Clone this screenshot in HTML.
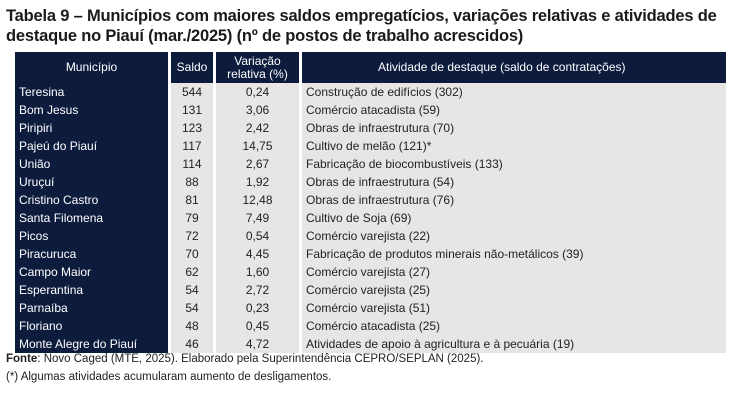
<!DOCTYPE html>
<html><head><meta charset="utf-8"><style>
body{margin:0;width:746px;height:400px;background:#fff;font-family:"Liberation Sans",sans-serif;overflow:hidden;position:relative}
.title{position:absolute;left:6px;top:6px;font-size:16.5px;font-weight:bold;color:#1a1a1a;line-height:20px;letter-spacing:-0.2px}
table{position:absolute;left:15px;top:52px;border-collapse:separate;border-spacing:3px 0;margin-left:-3px}
td,th{padding:0 4px;font-size:12px;height:18px;line-height:18px;white-space:nowrap}
th{background:#0d1b3d;color:#fff;font-weight:normal;text-align:center;height:31px;line-height:13px}
td.m{background:#0d1b3d;color:#fff;text-align:left;width:145px}
td.n{background:#e8e6e4;color:#222;text-align:center}
td.a{background:#e8e6e4;color:#222;text-align:left;width:416px}
.foot{position:absolute;left:6px;top:350px;font-size:11.5px;color:#222;line-height:18px}
</style></head><body>
<div class="title">Tabela 9 – Municípios com maiores saldos empregatícios, variações relativas e atividades de<br>destaque no Piauí (mar./2025) (nº de postos de trabalho acrescidos)</div>
<table>
<tr><th style="width:145px">Município</th><th style="width:34px">Saldo</th><th style="width:75px">Variação<br>relativa (%)</th><th style="text-align:left;padding-left:76px">Atividade de destaque (saldo de contratações)</th></tr>
<tbody id="tb"></tbody>
</table>
<div class="foot"><b>Fonte</b>: Novo Caged (MTE, 2025). Elaborado pela Superintendência CEPRO/SEPLAN (2025).<br>(*) Algumas atividades acumularam aumento de desligamentos.</div>
<script>
const municipios=["Teresina","Bom Jesus","Piripiri","Pajeú do Piauí","União","Uruçuí","Cristino Castro","Santa Filomena","Picos","Piracuruca","Campo Maior","Esperantina","Parnaíba","Floriano","Monte Alegre do Piauí"];
const saldos=[544,131,123,117,114,88,81,79,72,70,62,54,54,48,46];
const variacoes=["0,24","3,06","2,42","14,75","2,67","1,92","12,48","7,49","0,54","4,45","1,60","2,72","0,23","0,45","4,72"];
const atividades=["Construção de edifícios (302)","Comércio atacadista (59)","Obras de infraestrutura (70)","Cultivo de melão (121)*","Fabricação de biocombustíveis (133)","Obras de infraestrutura (54)","Obras de infraestrutura (76)","Cultivo de Soja (69)","Comércio varejista (22)","Fabricação de produtos minerais não-metálicos (39)","Comércio varejista (27)","Comércio varejista (25)","Comércio varejista (51)","Comércio atacadista (25)","Atividades de apoio à agricultura e à pecuária (19)"];
const tb=document.getElementById('tb');
municipios.forEach((m,i)=>{
const tr=document.createElement('tr');


const vals=[[m,'m'],[saldos[i],'n'],[variacoes[i],'n'],[atividades[i],'a']];
vals.forEach(([v,c])=>{const td=document.createElement('td');td.className=c;td.textContent=v;


tr.appendChild(td);});
tb.appendChild(tr);});
</script>
</body></html>
